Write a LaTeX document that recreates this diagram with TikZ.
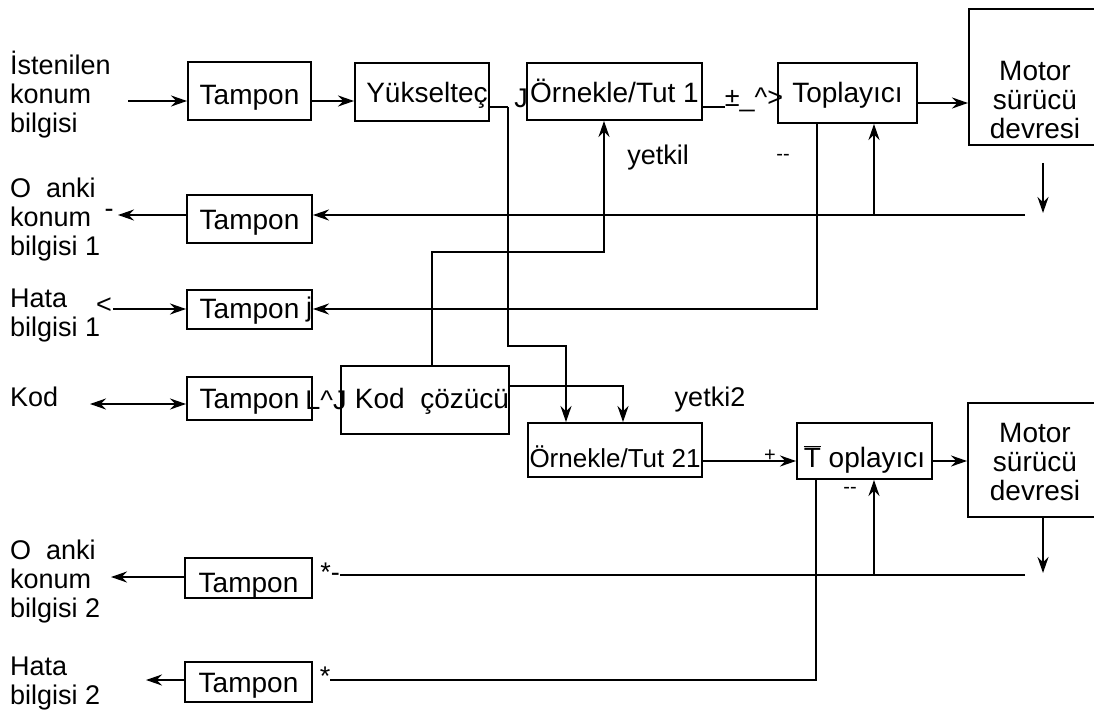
\documentclass[tikz,border=0pt]{standalone}
\usepackage{fontspec}
\setmainfont{Liberation Sans}
\usepackage{tikz}
\usetikzlibrary{arrows.meta}
\usetikzlibrary{positioning}

\tikzset{
  blok/.style={draw, line width=1.9pt, inner sep=0pt, text height=20pt, text depth=0pt, font=\fontsize{28}{29}\selectfont},
  yazi/.style={inner sep=0pt, font=\fontsize{27}{28}\selectfont},
  etiket/.style={inner sep=0pt, anchor=west, align=left, font=\fontsize{27}{29}\selectfont},
  isaret/.style={inner sep=0pt, font=\fontsize{20}{22}\selectfont},
  ok/.style={->, >={Stealth[length=16pt,width=11pt]}, line width=1.9pt},
  cizgi/.style={line width=1.9pt},
}

\begin{document}
\begin{tikzpicture}[x=1pt,y=-1pt]
            \useasboundingbox (0,0) rectangle (1094,722);
            % giris ve cikis etiketleri
            \node[etiket] (istenilen) at (10,95) {İstenilen\\konum\\bilgisi};
            \node[etiket] (anki1) at (10,220) {O\ \ anki\\konum\\bilgisi 1};
            \node[etiket] (hata1) at (10,316) {Hata\\bilgisi 1};
            \node[etiket] (kod) at (10,397) {Kod};
            \node[etiket] (anki2) at (10,582) {O\ \ anki\\konum\\bilgisi 2};
            \node[etiket] (hata2) at (10,684) {Hata\\bilgisi 2};
            % bloklar
            \node[blok, minimum width=123pt, minimum height=58pt, text height=28pt] (tampon1) at (249.5,91) {Tampon};
            \node[blok, minimum width=134pt, minimum height=58pt, text height=22pt] (yukselt) at (422,92) {\hspace*{10pt}Yükselteç};
            \node[blok, minimum width=175pt, minimum height=57pt, text height=22pt] (ornek1) at (614.5,91.5) {Örnekle/Tut 1};
            \node[blok, minimum width=139pt, minimum height=60pt] (topla1) at (847.5,93) {Toplayıcı};
            \node[blok, minimum width=131pt, minimum height=136pt] (motor1) at (1034.5,77) {};
            \node[yazi, align=center, font=\fontsize{28}{29}\selectfont] (motor1yazi) at (1035,100) {Motor\\sürücü\\devresi};
            \node[blok, minimum width=125pt, minimum height=48pt] (tampon2) at (249.5,219) {Tampon};
            \node[blok, minimum width=125pt, minimum height=39pt, text height=18pt] (tampon3) at (249.5,309.5) {Tampon};
            \node[blok, minimum width=125pt, minimum height=43pt] (tampon4) at (249.5,398.5) {Tampon};
            \node[blok, minimum width=166pt, minimum height=68pt, text height=16pt] (cozucu) at (425,400) {\hspace*{14pt}Kod\ \ çözücü};
            \node[blok, minimum width=174pt, minimum height=54pt, text height=34pt, font=\fontsize{26}{27}\selectfont] (ornek2) at (615,450) {Örnekle/Tut 21};
            \node[blok, minimum width=135pt, minimum height=56pt, text height=32pt] (topla2) at (864.5,451) {$\overline{\mbox{T}}$ oplayıcı};
            \node[blok, minimum width=132pt, minimum height=114pt] (motor2) at (1034,460) {};
            \node[yazi, align=center, font=\fontsize{28}{29}\selectfont] (motor2yazi) at (1035,462) {Motor\\sürücü\\devresi};
            \node[blok, minimum width=127pt, minimum height=40pt, text height=28pt] (tampon5) at (248.5,578) {Tampon};
            \node[blok, minimum width=127pt, minimum height=40pt] (tampon6) at (248.5,682) {Tampon};
            % kucuk yazilar
            \node[yazi] (j1) at (521,98) {J};
            \node[yazi] (arti1) at (754,100) {±\_\textasciicircum>};
            \node[isaret] (eksi1) at (783,157) {-{}-};
            \node[yazi] (yetki1) at (658,158) {yetkil};
            \node[yazi] (tire1) at (109,213) {-};
            \node[yazi] (kucuk1) at (104,306) {<};
            \node[yazi] (j2) at (309,310) {j};
            \node[yazi] (lj) at (326,400) {L\textasciicircum J};
            \node[yazi] (yetki2) at (710,400) {yetki2};
            \node[isaret] (arti2) at (770,456) {+};
            \node[isaret] (eksi2) at (850,490) {-{}-};
            \node[yazi] (yildiz1) at (330,572) {*-};
            \node[yazi] (yildiz2) at (325,676) {*};
            % ust kanal
            \coordinate (giris1) at (128,101);
            \draw[ok] (giris1) -- (tampon1.west |- giris1);
            \draw[ok] (tampon1.east |- giris1) -- (yukselt.west |- giris1);
            \coordinate (ayrim) at (508,107);
            \coordinate (kirik1) at (508,346);
            \coordinate (kirik2) at (566,346);
            \draw[cizgi] (yukselt.east |- ayrim) -- (ayrim);
            \draw[ok] (ayrim) -- (kirik1) -- (kirik2) -- (kirik2 |- ornek2.north); %ornekle 2 ye
            \draw[cizgi] (ornek1.east |- ayrim) -- (arti1.west |- ayrim);
            \coordinate (s1) at (940,103);
            \draw[ok] (topla1.east |- s1) -- (motor1.west |- s1);
            \coordinate (y1a) at (432,252);
            \coordinate (y1b) at (604,252);
            \draw[ok] (y1a |- cozucu.north) -- (y1a) -- (y1b) -- (y1b |- ornek1.south); %yetki1
            \coordinate (m1a) at (1043,163);
            \coordinate (m1b) at (1043,213);
            \draw[ok] (m1a) -- (m1b);
            \coordinate (gb1) at (1025,215);
            \coordinate (dal1) at (874,215);
            \draw[ok] (gb1) -- (tampon2.east |- gb1); %geri besleme 1
            \draw[ok] (dal1) -- (dal1 |- topla1.south);
            \coordinate (h1) at (817,309);
            \draw[ok] (h1 |- topla1.south) -- (h1) -- (tampon3.east |- h1); %hata 1
            \coordinate (cikis2) at (118,215);
            \draw[ok] (tampon2.west |- gb1) -- (cikis2);
            \coordinate (giris3) at (113,309);
            \draw[ok] (giris3) -- (tampon3.west |- giris3);
            \coordinate (giris4) at (90,404);
            \draw[ok, <->] (giris4) -- (tampon4.west |- giris4);
            % alt kanal
            \coordinate (y2) at (623,386);
            \draw[ok] (cozucu.east |- y2) -- (y2) -- (y2 |- ornek2.north); %yetki2
            \coordinate (s2) at (750,461);
            \draw[ok] (ornek2.east |- s2) -- (topla2.west |- s2);
            \draw[ok] (topla2.east |- s2) -- (motor2.west |- s2);
            \coordinate (m2) at (1043,573);
            \draw[ok] (m2 |- motor2.south) -- (m2);
            \coordinate (gb2) at (1025,575);
            \coordinate (dal2) at (874,575);
            \draw[cizgi] (gb2) -- (yildiz1.east |- gb2); %geri besleme 2
            \draw[ok] (dal2) -- (dal2 |- topla2.south);
            \coordinate (h2) at (816,680);
            \draw[cizgi] (h2 |- topla2.south) -- (h2) -- (yildiz2.east |- h2); %hata 2
            \coordinate (cikis5) at (111,577);
            \draw[ok] (tampon5.west |- cikis5) -- (cikis5);
            \coordinate (cikis6) at (146,680);
            \draw[ok] (tampon6.west |- cikis6) -- (cikis6);
        \end{tikzpicture}
\end{document}
